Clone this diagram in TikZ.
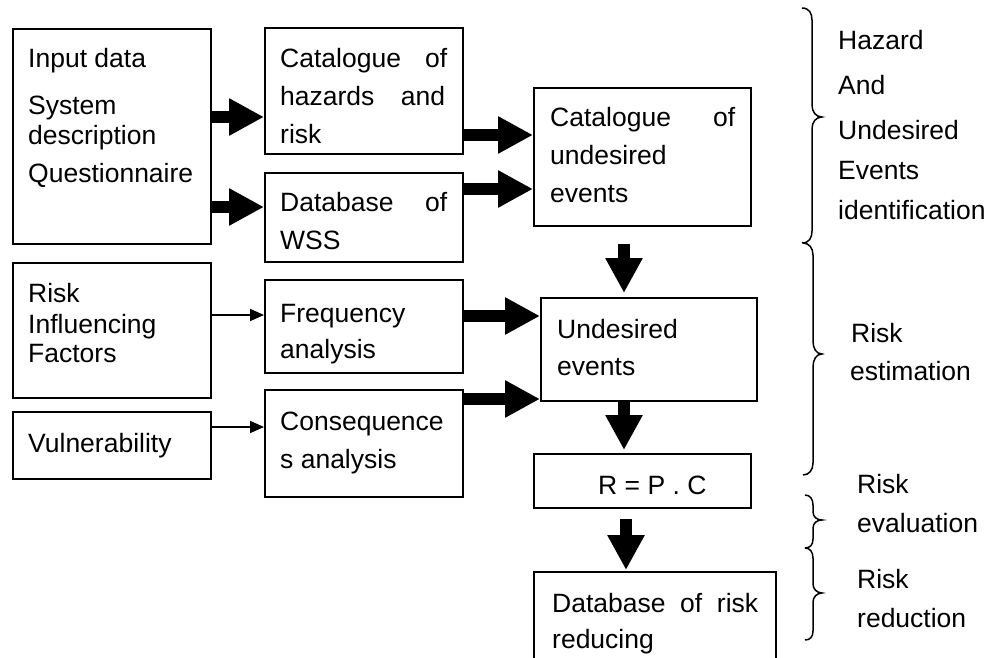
\documentclass[tikz,border=0pt]{standalone}
\usepackage{fontspec}
\setmainfont{Liberation Sans}
\usetikzlibrary{arrows.meta}
\begin{document}
\begin{tikzpicture}[x=1pt,y=-1pt,
  box/.style={draw, line width=1.6pt, inner sep=0pt, anchor=north west},
  lbl/.style={anchor=base west, inner sep=0pt, font=\fontsize{26.5}{30}\selectfont},
  fat/.style={line width=11.5pt, -{Triangle[length=35pt,width=35pt]}},
  thinarrow/.style={line width=1.5pt, -{Triangle[length=14pt,width=12pt]}},
  bracepath/.style={line width=1.5pt}]
\path[use as bounding box, clip] (0,0) rectangle (989,658);
\fill[white] (0,0) rectangle (989,658);

% boxes
\node[box, minimum width=198pt, minimum height=215pt] (inp) at (12,28) {};
\node[box, minimum width=198pt, minimum height=126pt] (haz) at (264,27) {};
\node[box, minimum width=198pt, minimum height=89pt] (wss) at (264,172) {};
\node[box, minimum width=217pt, minimum height=138pt] (cue) at (533,87) {};
\node[box, minimum width=198pt, minimum height=135pt] (rif) at (12,262) {};
\node[box, minimum width=198pt, minimum height=93pt] (freq) at (264,279) {};
\node[box, minimum width=198pt, minimum height=67pt] (vul) at (12,411) {};
\node[box, minimum width=198pt, minimum height=107pt] (cons) at (264,389) {};
\node[box, minimum width=216pt, minimum height=103pt] (ue) at (540,297) {};
\node[box, minimum width=217pt, minimum height=54pt] (rpc) at (533,453) {};
\node[box, minimum width=242pt, minimum height=140pt] (db) at (533,571) {};

% texts
\node[lbl] (t1) at (28,68) {Input data};
\node[lbl] (t2) at (28,115) {System};
\node[lbl] (t3) at (28,145) {description};
\node[lbl] (t4) at (28,183) {Questionnaire};
\node[lbl] (t5) at (280,68) {\makebox[167pt][l]{Catalogue\hfill of}};
\node[lbl] (t6) at (280,106) {\makebox[165pt][l]{hazards\hfill and}};
\node[lbl] (t7) at (280,144) {risk};
\node[lbl] (t8) at (280,212) {\makebox[167pt][l]{Database\hfill of}};
\node[lbl] (t9) at (280,249) {WSS};
\node[lbl] (t10) at (550,127) {\makebox[185pt][l]{Catalogue\hfill of}};
\node[lbl] (t11) at (550,165) {undesired};
\node[lbl] (t12) at (550,203) {events};
\node[lbl] (t13) at (28,302) {Risk};
\node[lbl] (t14) at (28,333) {Influencing};
\node[lbl] (t15) at (28,362) {Factors};
\node[lbl] (t16) at (280,322) {Frequency};
\node[lbl] (t17) at (280,358) {analysis};
\node[lbl] (t18) at (28,452) {Vulnerability};
\node[lbl] (t19) at (280,430) {Consequence};
\node[lbl] (t20) at (280,468) {s analysis};
\node[lbl] (t21) at (557,338) {Undesired};
\node[lbl] (t22) at (557,375) {events};
\node[lbl] (t23) at (598,494) {R = P . C};
\node[lbl] (t24) at (552,612) {\makebox[206pt][l]{Database\hfill of\hfill risk}};
\node[lbl] (t25) at (552,648) {reducing};
\node[lbl] (t26) at (838,50) {Hazard};
\node[lbl] (t27) at (838,95) {And};
\node[lbl] (t28) at (838,140) {Undesired};
\node[lbl] (t29) at (838,180) {Events};
\node[lbl] (t30) at (838,220) {identification};
\node[lbl] (t31) at (851,342) {Risk};
\node[lbl] (t32) at (850,380) {estimation};
\node[lbl] (t33) at (857,493) {Risk};
\node[lbl] (t34) at (857,532) {evaluation};
\node[lbl] (t35) at (857,588) {Risk};
\node[lbl] (t36) at (857,627) {reduction};

% fat arrows
\draw[fat] (inp.east |- 0,117) -- (haz.west |- 0,117);
\draw[fat] (inp.east |- 0,207) -- (wss.west |- 0,207);
\draw[fat] (haz.east |- 0,135) -- (cue.west |- 0,135);
\draw[fat] (wss.east |- 0,189) -- (cue.west |- 0,189);
\draw[fat] (freq.east |- 0,316) -- (ue.west |- 0,316);
\draw[fat] (cons.east |- 0,399) -- (ue.west |- 0,399);
\draw[fat, shorten <=17pt, shorten >=4pt] (cue.south -| 624,0) -- (ue.north -| 624,0);
\draw[fat, shorten >=3pt] (ue.south -| 624,0) -- (rpc.north -| 624,0);
\draw[fat, shorten <=10pt, shorten >=1pt] (rpc.south -| 626,0) -- (db.north -| 626,0);

% thin arrows
\draw[thinarrow] (rif.east |- 0,315) -- (freq.west |- 0,315);
\draw[thinarrow] (vul.east |- 0,427) -- (cons.west |- 0,427);

% braces
\draw[bracepath] (802,8) .. controls (809,8) and (812,13) .. (812,20) -- (812,105)
  .. controls (812,112) and (816,117) .. (822,117)
  .. controls (816,117) and (812,122) .. (812,129) -- (812,231)
  .. controls (812,238) and (809,243) .. (802,243);
\draw[bracepath] (803,243) .. controls (809,243) and (813,248) .. (813,255) -- (813,341)
  .. controls (813,348) and (816,354) .. (822,354)
  .. controls (816,354) and (813,360) .. (813,367) -- (813,463)
  .. controls (813,470) and (809,475) .. (803,475);
\draw[bracepath] (805,495) .. controls (810,495) and (813,499) .. (813,505) -- (813,512)
  .. controls (813,517) and (817,520) .. (822,520)
  .. controls (817,520) and (813,523) .. (813,528) -- (813,539)
  .. controls (813,545) and (810,548) .. (805,548);
\draw[bracepath] (805,548) .. controls (810,548) and (813,552) .. (813,558) -- (813,584)
  .. controls (813,589) and (817,593) .. (822,593)
  .. controls (817,593) and (813,597) .. (813,602) -- (813,631)
  .. controls (813,637) and (810,640) .. (805,640);
\end{tikzpicture}
\end{document}
